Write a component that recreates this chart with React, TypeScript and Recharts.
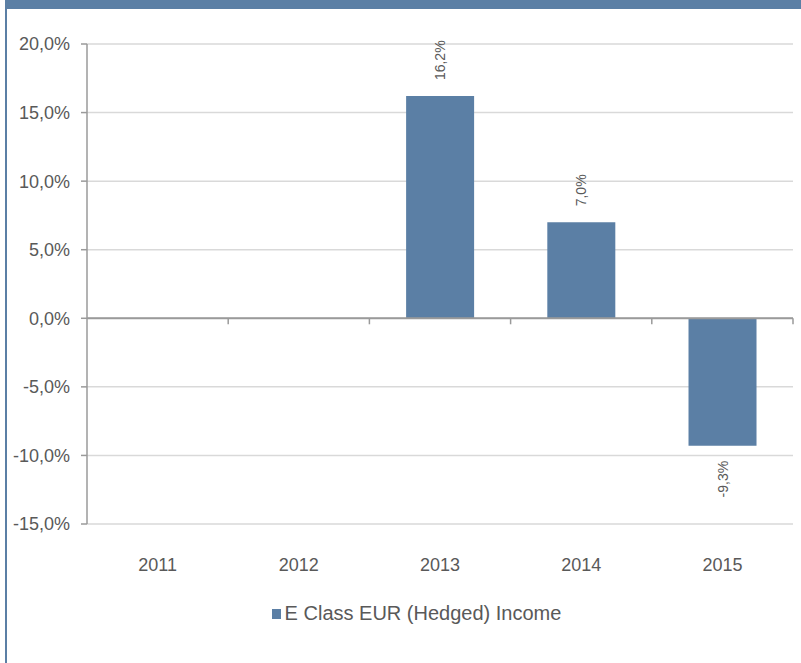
import React from 'react'
import {
  BarChart,
  Bar,
  XAxis,
  YAxis,
  CartesianGrid,
  Legend,
  LabelList,
  ReferenceLine,
} from 'recharts'

const years = ['2011', '2012', '2013', '2014', '2015']
const returns: (number | null)[] = [null, null, 16.2, 7.0, -9.3]
const yTicks = [-15, -10, -5, 0, 5, 10, 15, 20]
const seriesName = 'E Class EUR (Hedged) Income'

const BAR_COLOR = '#5B7FA5'
const TEXT_COLOR = '#595959'
const FONT = 'Arial, "Liberation Sans", Helvetica, sans-serif'

const chartData = years.map((year, i) => ({ year, value: returns[i] }))

const fmt = (v: number) => v.toFixed(1).replace('.', ',') + '%'

// rotated value label, above positive bars, below negative ones
const ValueLabel = (props: any) => {
  const { x, y, width, height, value } = props
  if (value === null || value === undefined) return null
  const cx = x + width / 2
  const top = Math.min(y, y + height)
  const bottom = Math.max(y, y + height)
  const pos = value >= 0
  const ly = pos ? top - 16 : bottom + 15
  return (
    <text
      x={cx}
      y={ly}
      transform={`rotate(-90, ${cx}, ${ly})`}
      textAnchor={pos ? 'start' : 'end'}
      dominantBaseline="central"
      fontSize={14}
      fontFamily={FONT}
      fill={TEXT_COLOR}
    >
      {fmt(value)}
    </text>
  )
}

// zero line with small category separators hanging below it
const ZeroAxis = (props: any) => {
  const { x1, y1, x2 } = props
  const n = years.length
  const step = (x2 - x1) / n
  return (
    <g>
      <line x1={x1} y1={y1} x2={x2} y2={y1} stroke="#9a9a9a" strokeWidth={2} />
      {years.map((_, i) => (
        <line
          key={i}
          x1={x1 + (i + 1) * step}
          y1={y1}
          x2={x1 + (i + 1) * step}
          y2={y1 + 6}
          stroke="#9a9a9a"
          strokeWidth={1.5}
        />
      ))}
    </g>
  )
}

const LegendContent = () => (
  <div
    style={{
      display: 'flex',
      alignItems: 'center',
      justifyContent: 'center',
      fontFamily: FONT,
      fontSize: 20,
      color: TEXT_COLOR,
    }}
  >
    <span
      style={{
        display: 'inline-block',
        width: 9,
        height: 10,
        background: BAR_COLOR,
        marginRight: 4,
      }}
    />
    {seriesName}
  </div>
)

export default function App() {
  return (
    <div
      style={{
        position: 'absolute',
        left: 0,
        top: 0,
        width: 801,
        height: 663,
        background: '#fff',
        overflow: 'hidden',
      }}
    >
      {/* frame */}
      <div style={{ position: 'absolute', left: 5, top: 0, right: 0, height: 9, background: BAR_COLOR }} />
      <div style={{ position: 'absolute', left: 5, top: 0, width: 2, bottom: 0, background: BAR_COLOR }} />

      <div style={{ position: 'absolute', left: 0, top: 0 }}>
        <BarChart
          width={801}
          height={663}
          data={chartData}
          margin={{ top: 44, right: 8, left: 0, bottom: 0 }}
          barCategoryGap="26%"
        >
          <CartesianGrid vertical={false} stroke="#d9d9d9" strokeWidth={1.5} />
          <XAxis
            dataKey="year"
            axisLine={false}
            tickLine={false}
            height={116}
            tick={{ fontSize: 18, fill: TEXT_COLOR, fontFamily: FONT, dy: 26 }}
            interval={0}
          />
          <YAxis
            width={87}
            domain={[-15, 20]}
            ticks={yTicks}
            interval={0}
            tickFormatter={fmt}
            axisLine={{ stroke: '#9a9a9a', strokeWidth: 1.5 }}
            tickLine={{ stroke: '#9a9a9a', strokeWidth: 1.5 }}
            tickSize={6}
            tickMargin={11}
            tick={{ fontSize: 18, fill: TEXT_COLOR, fontFamily: FONT }}
          />
          <ReferenceLine y={0} shape={<ZeroAxis />} />
          <Legend
            content={<LegendContent />}
            wrapperStyle={{ position: 'absolute', top: 602, left: 16, width: 801 }}
          />
          <Bar dataKey="value" name={seriesName} fill={BAR_COLOR} isAnimationActive={false}>
            <LabelList dataKey="value" content={<ValueLabel />} />
          </Bar>
        </BarChart>
      </div>
    </div>
  )
}
